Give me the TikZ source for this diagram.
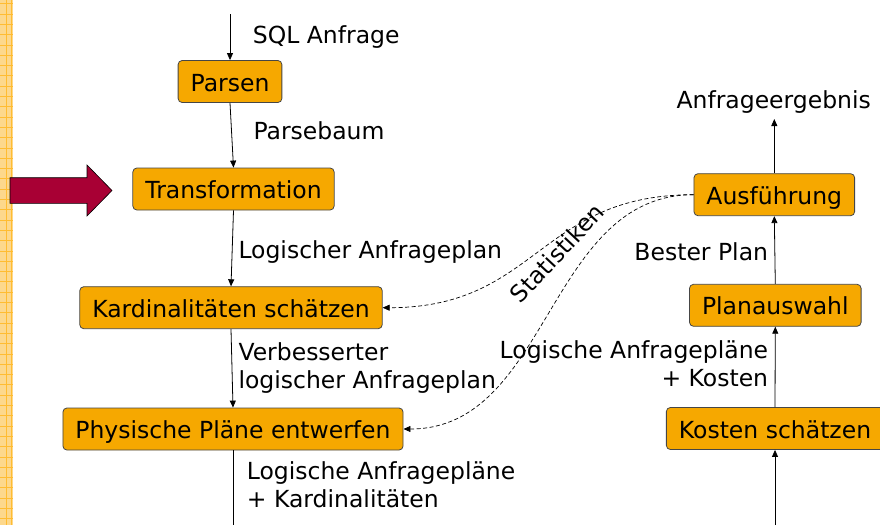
\documentclass[tikz,border=0pt]{standalone}
\usepackage{fontspec}
\setmainfont{DejaVu Sans}
\usetikzlibrary{arrows.meta}
\definecolor{boxorange}{RGB}{246,168,0}
\definecolor{boxborder}{RGB}{70,70,70}
\definecolor{crimson}{RGB}{168,0,52}
\definecolor{stripefill}{RGB}{253,216,140}
\definecolor{stripeline}{RGB}{255,188,50}
\tikzset{
  stepbox/.style={draw=boxborder, fill=boxorange, rounded corners=4pt, line width=0.8pt,
    inner xsep=12.5pt, inner ysep=11.5pt, text height=19pt, text depth=0pt},
  lbl/.style={inner sep=0pt},
  flow/.style={line width=0.8pt, -{Triangle[length=7pt,width=6pt]}},
  feed/.style={line width=0.7pt, dash pattern=on 4pt off 2.5pt, -{Triangle[length=7pt,width=6pt]}},
}
\begin{document}
\begin{tikzpicture}[x=1pt,y=-1pt,font=\fontsize{23.5}{28}\selectfont]
\useasboundingbox (0,0) rectangle (880,525);
% left decorative stripe
\fill[stripefill] (0,0) rectangle (12.5,525);
\foreach \yy in {3.5,14,24.3,34.6,44.9,55.2,65.5,75.8,86.1,96.4,106.7,117,127.3,137.6,147.9,158.2,168.5,178.8,189.1,199.4,209.7,220,230.3,240.6,250.9,261.2,271.5,281.8,292.1,302.4,312.7,323,333.3,343.6,353.9,364.2,374.5,384.8,395.1,405.4,415.7,426,436.3,446.6,456.9,467.2,477.5,487.8,498.1,508.4,518.7}
  \draw[stripeline, line width=0.8pt] (0,\yy) -- (12.5,\yy);
\draw[stripeline, line width=0.8pt] (6,0) -- (6,525);
\draw[stripeline, line width=0.8pt] (11,0) -- (11,525);
% big arrow
\filldraw[fill=crimson, draw=black, line width=0.6pt]
  (10,177.7) -- (87,177.7) -- (87,165) -- (112,190.5) -- (87,216) -- (87,203.3) -- (10,203.3) -- cycle;

% nodes
\node[stepbox] (parsen) at (230,81.5) {Parsen};
\node[stepbox] (trans) at (233.5,189) {Transformation};
\node[stepbox] (kard) at (231,307.7) {Kardinalitäten schätzen};
\node[stepbox] (phys) at (233,429) {Physische Pläne entwerfen};
\node[stepbox] (aus) at (774.3,194.7) {Ausführung};
\node[stepbox] (plan) at (775.3,305.3) {Planauswahl};
\node[stepbox] (kosten) at (775,428.5) {Kosten schätzen};

\coordinate (sqlin) at (230,14);
\coordinate (botL) at (233,525);
\coordinate (botR) at (775,525);
\coordinate (result) at (774.3,119);

% connectors
\draw[flow] (sqlin) -- (parsen.north);
\draw[flow] (parsen.south) -- (trans.north);
\draw[flow] (trans.south) -- (kard.north);
\draw[flow] (kard.south) -- (phys.north);
\draw[line width=0.8pt] (phys.south) -- (botL);
\draw[flow] (botR) -- (kosten.south);
\draw[flow] (kosten.north) -- (plan.south);
\draw[flow] (plan.north) -- (aus.south);
\draw[flow] (aus.north) -- (result);
\draw[feed] (aus.west) to[out=180,in=0,looseness=1.2] (kard.east);
\draw[feed] (aus.west) to[out=180,in=0] (phys.east);

% labels
\node[lbl, anchor=base west] (l1) at (252.7,43) {SQL Anfrage};
\node[lbl, anchor=base west] (l2) at (253.3,139) {Parsebaum};
\node[lbl, anchor=base west] (l3) at (238.3,258.3) {Logischer Anfrageplan};
\node[lbl, anchor=north west, align=left] (l4) at (238.3,342) {Verbesserter\\logischer Anfrageplan};
\node[lbl, anchor=north west, align=left] (l5) at (246.7,461) {Logische Anfragepläne\\+ Kardinalitäten};
\node[lbl, anchor=base] (l6) at (773.7,108.3) {Anfrageergebnis};
\node[lbl, anchor=base east] (l7) at (768.3,260) {Bester Plan};
\node[lbl, anchor=north east, align=right] (l8) at (768.3,340) {Logische Anfragepläne\\+ Kosten};
\node[lbl, rotate=47] (l9) at (557,253) {Statistiken};
\end{tikzpicture}
\end{document}
